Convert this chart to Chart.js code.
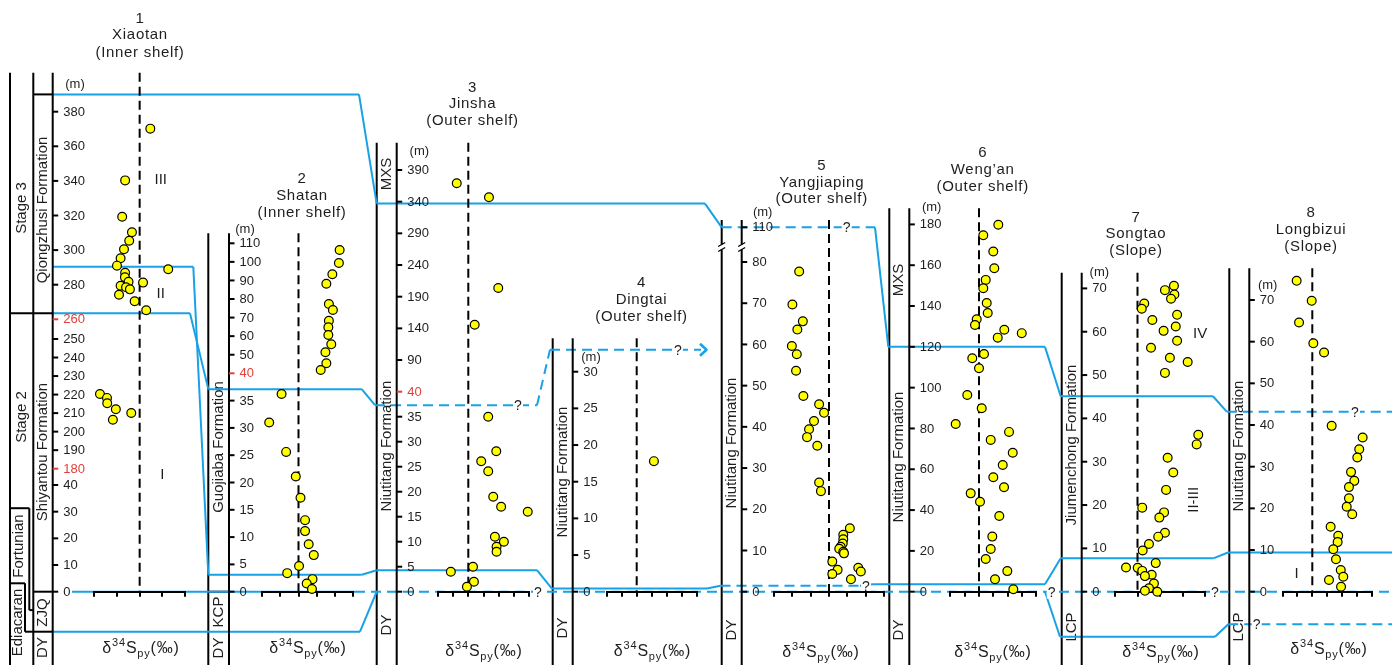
<!DOCTYPE html>
<html><head><meta charset="utf-8">
<script src="https://cdn.jsdelivr.net/npm/chart.js@4.4.1/dist/chart.umd.min.js"></script>
<style>
html,body{margin:0;padding:0;background:#fff;}
#wrap{position:relative;width:1392px;height:665px;overflow:hidden;background:#fff;}
#wrap canvas{position:absolute;left:0;top:0;}
</style></head><body>
<div id="wrap"></div>
<script>
// ================= DATA =================
const sectionTitles = [
  ["1","Xiaotan","(Inner shelf)"], ["2","Shatan","(Inner shelf)"],
  ["3","Jinsha","(Outer shelf)"], ["4","Dingtai","(Outer shelf)"],
  ["5","Yangjiaping","(Outer shelf)"], ["6","Weng\u2019an","(Outer shelf)"],
  ["7","Songtao","(Slope)"], ["8","Longbizui","(Slope)"]
];

// delta34S_py (permil) and depth (m) per section
const p1Delta = [4.7,-6.4,-7.7,-3.4,-4.6,-6.9,-8.4,-10.0,-6.4,12.6,-6.5,-4.9,1.5,-8.4,-6.0,-4.3,-9.1,-2.2,2.9,-17.5,-14.4,-14.3,-10.5,-11.8,-3.7];
const p1Depth = [370.2,340.3,319.3,310.3,305.4,300.5,295.3,291.0,286.9,288.9,284.3,281.7,281.2,279.4,278.5,277.3,274.2,270.4,265.2,220.3,218.2,215.3,212.1,206.4,210.1];

const p2Delta = [22.6,22.2,18.6,15.3,16.7,18.9,16.7,16.4,16.4,18.0,14.8,15.3,12.2,-9.3,-16.1,-6.8,-1.5,1.1,3.6,3.6,5.6,8.4,0.3,-6.2,7.7,4.5,7.4];
const p2Depth = [106.4,99.4,93.3,88.2,77.3,74.1,68.3,64.8,60.6,55.6,51.3,45.4,41.8,36.2,31.0,25.6,21.1,17.2,13.1,11.1,8.7,6.7,4.7,3.4,2.3,1.5,0.5];

const p3Delta = [-7.6,13.6,19.7,4.2,13.1,18.4,8.5,13.1,16.4,21.6,39.1,17.5,23.4,18.6,18.6,3.1,-11.5,3.7,-0.9];
const p3Depth = [369.0,346.9,203.7,145.8,35.0,28.1,26.1,24.1,19.0,17.0,16.0,11.0,10.0,9.0,8.0,5.0,4.0,2.0,1.0];

const p4Delta = [5.7];
const p4Depth = [17.8];

const p5Delta = [-16.3,-20.0,-14.3,-17.3,-20.3,-17.6,-18.0,-14.0,-5.4,-2.7,-8.2,-10.9,-12.0,-6.4,-5.4,-4.4,11.4,7.8,7.8,7.5,6.4,5.6,7.8,8.2,1.8,4.7,1.8,16.0,17.4,12.0];
const p5Depth = [77.7,69.7,65.6,63.6,59.6,57.6,53.6,47.5,45.5,43.4,41.4,39.4,37.5,35.4,26.5,24.4,15.4,13.8,12.7,11.7,10.9,10.4,9.7,9.3,7.3,5.3,4.3,5.8,4.9,3.0];

const p6Delta = [13.5,3.0,10.0,10.7,4.7,3.0,5.4,6.1,-1.6,-2.8,17.7,13.1,29.9,3.5,-4.7,0,-8.2,1.9,-16.3,21.0,8.2,23.6,16.6,10.0,17.5,-5.8,0.7,14.2,9.3,8.2,4.7,19.8,11.2,24.0];
const p6Depth = [179.8,174.7,166.7,158.5,152.8,148.7,141.5,136.6,133.5,130.7,128.4,124.5,126.7,116.5,114.4,109.5,96.4,89.9,82.2,78.3,74.4,68.1,62.1,56.1,51.2,48.2,44.1,37.1,27.0,20.9,16.0,10.1,6.1,1.2];

const p7Delta = [16.2,12.2,16.4,14.9,3.0,1.9,17.6,6.6,17.0,11.6,17.6,6.0,14.4,22.3,12.2,27.0,26.3,13.4,15.9,12.7,2.1,11.8,9.7,12.2,9.2,5.1,2.3,8.1,-5.1,0.1,2.1,6.3,3.3,7.3,5.1,3.3,8.8];
const p7Depth = [70.6,69.6,68.6,67.6,66.5,65.3,63.9,62.7,61.2,60.2,57.9,56.3,54.0,53.0,50.5,36.2,34.0,30.9,27.5,23.5,19.4,18.3,17.1,13.6,12.7,11.0,9.5,6.6,5.6,5.5,4.8,3.9,3.6,1.9,0.8,0.2,0.0];

const p8Delta = [-10.5,-0.4,-8.9,0.7,7.9,13.0,33.8,31.5,30.2,26.0,28.2,24.6,24.6,23.1,26.8,12.3,17.4,17.0,14.1,15.9,19.1,20.8,11.2,19.3];
const p8Depth = [74.6,69.8,64.6,59.6,57.4,39.8,37.0,34.2,32.2,28.7,26.6,25.1,22.4,20.4,18.6,15.6,13.4,11.9,10.2,7.8,5.2,3.6,2.8,1.2];

// depth tick labels (red = axis break)
const p1YTicks = [0,10,20,30,40,180,190,200,210,220,230,240,250,260,280,300,320,340,360,380];
const p1RedTicks = [180,260];
const p2YTicks = [0,5,10,15,20,25,30,35,40,50,60,70,80,90,100,110];
const p2RedTicks = [40];
const p3YTicks = [0,5,10,15,20,25,30,35,40,90,140,190,240,290,340,390];
const p3RedTicks = [40];
const p4YTicks = [0,5,10,15,20,25,30];
const p5YTicks = [0,10,20,30,40,50,60,70,80,110];
const p6YTicks = [0,20,40,60,80,100,120,140,160,180];
const p7YTicks = [0,10,20,30,40,50,60,70];
const p8YTicks = [0,10,20,30,40,50,60,70];

// zone labels [text, delta, depth, rotated]
const p1Zones = [["III",9.3,340.5],["II",9.3,274.6],["I",10,126]];
const p7Zones = [["IV",27.8,59.6],["II-III",25.1,21.2,true]];
const p8Zones = [["I",-10.5,4.25]];

// correlation line depths (m), one per section node
const corrTopDepths    = [390, 337, 110, 120, 45.1, 43.2];
const corrStage2Depths = [263.5, 37.1, 37.3, 33];
const corrLowDepths    = [290.4, 3.1, 4.3, 0.45, 1.46, 3.6, 7.7, 9.4];
const corrZeroDepths   = [0];
const corrBaseDepths   = [0];
const corrEdiDepths    = [-15, 0];
const corrLcpDepths    = [0, -10.4, -7.8];

// ================= LAYOUT / STYLE =================
const FONT = "'Liberation Sans', Arial, Helvetica, sans-serif";
const BLUE = '#17a1e6';
const RED = '#e2403b';
const TXT = '#1e1e1e';
const W = 1392, H = 665, ZERO_Y = 591.7;
Chart.defaults.font.family = FONT;

const PANELS = [
 {delta:p1Delta, depth:p1Depth, yTicks:p1YTicks, redTicks:p1RedTicks, zones:p1Zones,
  colTop:72.7, colA:33.3, extraCols:[10], axisX:52.7,
  xMin:-20, xMax:20, xStep:10, xEvery:20, xLeft:94.3, xRight:185,
  anchors:[[0,0],[40,106.7],[180,123],[250,252.7],[260,272.4],[390,497.3]],
  mPos:[75,84], titleX:140, titleBase:[23.3,39.3,56.7], axTitle:[141,653],
  strat:[["Stage 3",21.5,208],["Qiongzhusi Formation",42.5,210],["Stage 2",21.5,417],["Shiyantou Formation",42.5,452],["Fortunian",18.5,546],["Ediacaran",18,622.5],["ZJQ",42.8,612.5],["DY",42.8,647.5]]},
 {delta:p2Delta, depth:p2Depth, yTicks:p2YTicks, redTicks:p2RedTicks, zones:[],
  colTop:233.3, colA:208.3, extraCols:[], axisX:229,
  xMin:-20, xMax:30, xStep:10, xEvery:20, xLeft:262.1, xRight:353.1,
  anchors:[[0,0],[40,218.4],[110,348.4]],
  mPos:[245,229], titleX:302, titleBase:[183.3,200,216.7], axTitle:[308,653],
  strat:[["Guojiaba Formation",218.7,447],["KCP",218.7,612],["DY",218.7,648]]},
 {delta:p3Delta, depth:p3Depth, yTicks:p3YTicks, redTicks:p3RedTicks, zones:[],
  colTop:142.7, colA:376.7, extraCols:[], axisX:396.7,
  xMin:-20, xMax:40, xStep:10, xEvery:20, xLeft:437.9, xRight:529.1,
  anchors:[[0,0],[40,200],[390,421.7]],
  mPos:[419.3,151.7], titleX:472.5, titleBase:[91.7,108.3,125], axTitle:[484,656],
  strat:[["MXS",386.7,174],["Niutitang Formation",386.7,446],["DY",386.7,625]]},
 {delta:p4Delta, depth:p4Depth, yTicks:p4YTicks, redTicks:[], zones:[],
  colTop:338.3, colA:552.7, extraCols:[], axisX:572.7,
  xMin:-10, xMax:20, xStep:5, xEvery:10, xLeft:606.5, xRight:697.1,
  anchors:[[0,0],[30,220]],
  mPos:[591,357.3], titleX:641.5, titleBase:[287.3,304,320.7], axTitle:[652.5,656],
  strat:[["Niutitang Formation",562.7,472],["DY",562.7,628]]},
 {delta:p5Delta, depth:p5Depth, yTicks:p5YTicks, redTicks:[], zones:[],
  colTop:220, colA:721.7, extraCols:[], axisX:741.7, breaks:[93],
  xMin:-30, xMax:30, xStep:10, xEvery:20, xLeft:774.1, xRight:883.9,
  anchors:[[0,0],[80,329.7],[110,364.4]],
  mPos:[762.7,212.7], titleX:821.7, titleBase:[170,186.7,203.3], axTitle:[821,657],
  strat:[["Niutitang Formation",731.7,443],["DY",731.7,630]]},
 {delta:p6Delta, depth:p6Depth, yTicks:p6YTicks, redTicks:[], zones:[],
  colTop:208.3, colA:889.3, extraCols:[], axisX:909.3,
  xMin:-20, xMax:40, xStep:10, xEvery:20, xLeft:950.4, xRight:1036.2,
  anchors:[[0,0],[180,367.3]],
  mPos:[931.7,207.3], titleX:982.7, titleBase:[156.5,174,190.7], axTitle:[993,657],
  strat:[["MXS",899.3,280],["Niutitang Formation",899.3,457],["DY",899.3,630]]},
 {delta:p7Delta, depth:p7Depth, yTicks:p7YTicks, redTicks:[], zones:p7Zones,
  colTop:272.7, colA:1061.7, extraCols:[], axisX:1081.7,
  xMin:-10, xMax:30, xStep:10, xEvery:20, xLeft:1115, xRight:1205,
  anchors:[[0,0],[70,303.3]],
  mPos:[1099.3,272.7], titleX:1136, titleBase:[221.7,238.3,255], axTitle:[1161,657],
  strat:[["Jiumenchong Formation",1071.7,445],["LCP",1071.7,627]]},
 {delta:p8Delta, depth:p8Depth, yTicks:p8YTicks, redTicks:[], zones:p8Zones,
  colTop:268.3, colA:1229.3, extraCols:[], axisX:1249.3,
  xMin:-20, xMax:40, xStep:10, xEvery:20, xLeft:1282.5, xRight:1371.9,
  anchors:[[0,0],[70,291.7]],
  mPos:[1267.7,285], titleX:1311, titleBase:[217.3,234,250.7], axTitle:[1329,654],
  strat:[["Niutitang Formation",1239.3,446],["LCP",1239.3,627]]}
];

// correlation lines: section index per node, horizontal x-span per node, dash flags
const CORR = [
 {depths:corrTopDepths, panels:[0,2,4,5,6,7],
  spans:[[52.7,359],[376.7,705],[721.7,875],[888.3,1045],[1060.7,1213],[1226.7,1392]],
  dash:[0,0,1,0,0,1], diag:[0,0,0,0,0], q:[[846.7,2],[1355,5]]},
 {depths:corrStage2Depths, panels:[0,1,2,3],
  spans:[[52.7,190],[208.3,361.7],[375,537],[550,701]],
  dash:[0,0,1,1], diag:[0,0,1], q:[[518,2],[678,3]], arrow:true},
 {depths:corrLowDepths, panels:[0,1,2,3,4,5,6,7],
  spans:[[53,193.3],[208.3,361.7],[376.7,537],[551.7,707],[720.5,860],[873,1045],[1060.7,1213.3],[1228,1392]],
  dash:[0,0,0,0,1,0,0,0], diag:[0,0,0,0,0,0,0], q:[[866,4]]},
 {depths:corrZeroDepths, panels:[0], spans:[[72,355]], dash:[0], diag:[], q:[]},
 {depths:corrBaseDepths, panels:[2], spans:[[355,1392]], dash:[1], diag:[], q:[[538,0],[1051.7,0],[1215,0]]},
 {depths:corrEdiDepths, panels:[0,2], spans:[[52.7,360],[376.7,376.7]], dash:[0,0], diag:[0], q:[]},
 {depths:corrLcpDepths, panels:[5,6,7], spans:[[1045,1045],[1060,1215],[1228.3,1392]],
  dash:[0,0,1], diag:[0,0], q:[[1256.7,2]]}
];

// strat boundaries in section 1 and 2: [panel, depth, x0, x1] and verticals [panel, x, d0, d1]
const BOUNDS_H = [[0,390,33.3,52.7],[0,263.5,10,52.7],[0,0,33.3,52.7],[0,-15,25,52.7],
                  [0,31.3,10,29.3],[0,-6.9,29.3,33.3],[0,3.15,10,25],[1,0,208.3,229]];
const BOUNDS_V = [[0,29.3,31.3,-6.9],[0,25,3.15,-15]];

// ================= CUSTOM BROKEN-AXIS SCALE =================
const ANCHORS = {};
class PiecewiseScale extends Chart.LinearScale {
  getPixelForValue(value) {
    const a = ANCHORS[this.chart.canvas.id];
    if (value === null || value === undefined || isNaN(value)) return NaN;
    let i = 0;
    while (i < a.length - 2 && value > a[i + 1][0]) i++;
    const v0 = a[i][0], o0 = a[i][1], v1 = a[i + 1][0], o1 = a[i + 1][1];
    return this.bottom - (o0 + (value - v0) * (o1 - o0) / (v1 - v0));
  }
  getValueForPixel(pixel) {
    const a = ANCHORS[this.chart.canvas.id];
    const off = this.bottom - pixel;
    let i = 0;
    while (i < a.length - 2 && off > a[i + 1][1]) i++;
    const v0 = a[i][0], o0 = a[i][1], v1 = a[i + 1][0], o1 = a[i + 1][1];
    return v0 + (off - o0) * (v1 - v0) / (o1 - o0);
  }
}
PiecewiseScale.id = 'piecewise';
PiecewiseScale.defaults = {};
Chart.register(PiecewiseScale);

// ================= HELPERS =================
function drawDelta(ctx, cx, base) {
  const parts = [['\u03b4',16,0],['34',11,-7],['S',16,0],['py',11,4],['(\u2030)',16,0]];
  ctx.save();
  ctx.textAlign = 'left'; ctx.textBaseline = 'alphabetic'; ctx.fillStyle = TXT;
  ctx.letterSpacing = '0.8px';
  let w = 0;
  parts.forEach(p => { ctx.font = p[1] + 'px ' + FONT; w += ctx.measureText(p[0]).width; });
  let x = cx - w / 2;
  parts.forEach(p => { ctx.font = p[1] + 'px ' + FONT; ctx.fillText(p[0], x, base + p[2]); x += ctx.measureText(p[0]).width; });
  ctx.restore();
}

function panelPlugin(P) {
  return {
    id: 'panelDeco',
    beforeDatasetsDraw(chart) {
      const ctx = chart.ctx, xs = chart.scales.x;
      ctx.save();
      ctx.strokeStyle = '#000'; ctx.lineWidth = 2; ctx.setLineDash([9, 5]);
      const x0 = xs.getPixelForValue(0);
      ctx.beginPath(); ctx.moveTo(x0, P.colTop); ctx.lineTo(x0, chart.chartArea.bottom); ctx.stroke();
      ctx.restore();
    },
    afterDraw(chart) {
      const ctx = chart.ctx, ys = chart.scales.y, xs = chart.scales.x;
      ctx.save();
      ctx.strokeStyle = '#000'; ctx.lineWidth = 2;
      ctx.beginPath(); ctx.moveTo(P.axisX, P.colTop); ctx.lineTo(P.axisX, H); ctx.stroke();
      (P.breaks || []).forEach(d => {
        const y = ys.getPixelForValue(d);
        [P.colA, P.axisX].forEach(x => {
          ctx.fillStyle = '#fff'; ctx.fillRect(x - 4, y - 2.5, 8, 5);
          ctx.strokeStyle = '#000'; ctx.lineWidth = 1.3;
          ctx.beginPath();
          ctx.moveTo(x - 3.5, y - 0.5); ctx.lineTo(x + 3.5, y - 4.5);
          ctx.moveTo(x - 3.5, y + 4.5); ctx.lineTo(x + 3.5, y + 0.5);
          ctx.stroke();
        });
      });
      ctx.font = '13px ' + FONT; ctx.textAlign = 'left'; ctx.textBaseline = 'middle';
      P.yTicks.forEach(v => {
        const y = ys.getPixelForValue(v);
        const red = P.redTicks.includes(v);
        ctx.strokeStyle = red ? RED : '#000'; ctx.lineWidth = 2;
        ctx.beginPath(); ctx.moveTo(P.axisX, y); ctx.lineTo(P.axisX + 5.5, y); ctx.stroke();
        ctx.fillStyle = red ? RED : TXT;
        ctx.fillText(String(v), P.axisX + 10.5, y + 0.5);
      });
      ctx.textAlign = 'center'; ctx.fillStyle = TXT;
      ctx.fillText('(m)', P.mPos[0], P.mPos[1]);
      drawDelta(ctx, P.axTitle[0], P.axTitle[1]);
      ctx.font = '15px ' + FONT; ctx.fillStyle = TXT; ctx.textAlign = 'center'; ctx.textBaseline = 'middle';
      P.zones.forEach(z => {
        const x = xs.getPixelForValue(z[1]), y = ys.getPixelForValue(z[2]);
        if (z[3]) {
          ctx.save(); ctx.translate(x, y); ctx.rotate(-Math.PI / 2); ctx.fillText(z[0], 0, 0); ctx.restore();
        } else ctx.fillText(z[0], x, y);
      });
      ctx.restore();
    }
  };
}

// ================= BUILD =================
const wrap = document.getElementById('wrap');
const bgCanvas = document.createElement('canvas');
bgCanvas.id = 'bg'; bgCanvas.width = W; bgCanvas.height = H; bgCanvas.style.zIndex = 1;
wrap.appendChild(bgCanvas);

const charts = PANELS.map((P, i) => {
  const cv = document.createElement('canvas');
  cv.id = 'p' + i; cv.width = W; cv.height = H; cv.style.zIndex = 2 + i;
  wrap.appendChild(cv);
  ANCHORS[cv.id] = P.anchors;
  const pts = P.delta.map((x, k) => ({x: x, y: P.depth[k]}));
  return new Chart(cv, {
    type: 'scatter',
    data: {datasets: [{data: pts, pointRadius: 4.4, pointBorderWidth: 1.2,
      pointBackgroundColor: '#ffff00', pointBorderColor: '#000', backgroundColor: '#ffff00', borderColor: '#000', clip: false}]},
    options: {
      responsive: false, animation: false, devicePixelRatio: 1, events: [],
      layout: {padding: {left: P.xLeft, right: W - P.xRight, top: P.colTop, bottom: H - ZERO_Y}},
      plugins: {legend: {display: false}, tooltip: {enabled: false}},
      scales: {
        x: {type: 'linear', position: 'bottom', min: P.xMin, max: P.xMax,
          afterFit: s => { s.height = 0; },
          ticks: {stepSize: P.xStep, autoSkip: false, maxRotation: 0, minRotation: 0, padding: 8, color: TXT,
            font: {size: 13, family: FONT},
            callback: v => (Math.abs(v % P.xEvery) < 1e-9 ? String(Math.round(v)) : '')},
          grid: {display: true, drawOnChartArea: false, drawTicks: true, tickLength: 5, color: '#000', lineWidth: 2},
          border: {display: true, color: '#000', width: 2}},
        y: {type: 'piecewise', display: false, min: -50, max: 400}
      }
    },
    plugins: [panelPlugin(P)]
  });
});

function yOf(pi, d) { return charts[pi].scales.y.getPixelForValue(d); }

const bgPlugin = {
  id: 'bgDeco',
  afterDraw(chart) {
    const ctx = chart.ctx;
    ctx.save();
    // titles
    ctx.fillStyle = TXT; ctx.textAlign = 'center'; ctx.textBaseline = 'alphabetic';
    ctx.font = '15px ' + FONT; ctx.letterSpacing = '0.7px';
    PANELS.forEach((P, i) => {
      sectionTitles[i].forEach((t, k) => ctx.fillText(t, P.titleX, P.titleBase[k]));
    });
    ctx.letterSpacing = '0px';
    // strat column labels
    ctx.textBaseline = 'middle';
    PANELS.forEach(P => P.strat.forEach(s => {
      ctx.save(); ctx.translate(s[1], s[2]); ctx.rotate(-Math.PI / 2); ctx.fillText(s[0], 0, 0); ctx.restore();
    }));
    // column lines
    ctx.strokeStyle = '#000'; ctx.lineWidth = 2;
    PANELS.forEach(P => {
      [P.colA].concat(P.extraCols).forEach(x => {
        ctx.beginPath(); ctx.moveTo(x, P.colTop); ctx.lineTo(x, H); ctx.stroke();
      });
    });
    BOUNDS_H.forEach(b => {
      const y = yOf(b[0], b[1]);
      ctx.beginPath(); ctx.moveTo(b[2], y); ctx.lineTo(b[3], y); ctx.stroke();
    });
    BOUNDS_V.forEach(b => {
      ctx.beginPath(); ctx.moveTo(b[1], yOf(b[0], b[2])); ctx.lineTo(b[1], yOf(b[0], b[3])); ctx.stroke();
    });
    // correlation lines
    ctx.strokeStyle = BLUE; ctx.lineWidth = 2; ctx.lineJoin = 'round';
    const seg = (x0, y0, x1, y1, dashed) => {
      ctx.setLineDash(dashed ? [10, 6] : []);
      ctx.beginPath(); ctx.moveTo(x0, y0); ctx.lineTo(x1, y1); ctx.stroke();
    };
    CORR.forEach(L => {
      const n = L.panels.length;
      for (let i = 0; i < n; i++) {
        const y = yOf(L.panels[i], L.depths[i]);
        const s = L.spans[i];
        if (s[1] > s[0]) seg(s[0], y, s[1], y, L.dash[i]);
        if (i < n - 1) {
          const yn = yOf(L.panels[i + 1], L.depths[i + 1]);
          seg(s[1], y, L.spans[i + 1][0], yn, L.diag[i]);
        }
      }
      if (L.arrow) {
        const y = yOf(L.panels[n - 1], L.depths[n - 1]);
        const xe = L.spans[n - 1][1];
        ctx.setLineDash([]); ctx.lineWidth = 2.6;
        ctx.beginPath(); ctx.moveTo(xe - 1, y - 6); ctx.lineTo(xe + 5.5, y); ctx.lineTo(xe - 1, y + 6); ctx.stroke();
        ctx.lineWidth = 2;
      }
    });
    ctx.setLineDash([]);
    // question marks
    ctx.font = '14px ' + FONT; ctx.textAlign = 'center'; ctx.textBaseline = 'middle';
    CORR.forEach(L => L.q.forEach(q => {
      const y = yOf(L.panels[q[1]], L.depths[q[1]]);
      ctx.fillStyle = '#fff'; ctx.fillRect(q[0] - 5, y - 7, 10, 14);
      ctx.fillStyle = TXT; ctx.fillText('?', q[0], y + 1);
    }));
    ctx.restore();
  }
};

new Chart(bgCanvas, {
  type: 'scatter',
  data: {datasets: []},
  options: {responsive: false, animation: false, devicePixelRatio: 1, events: [],
    plugins: {legend: {display: false}, tooltip: {enabled: false}},
    scales: {x: {display: false}, y: {display: false}}},
  plugins: [bgPlugin]
});
</script>
</body></html>
